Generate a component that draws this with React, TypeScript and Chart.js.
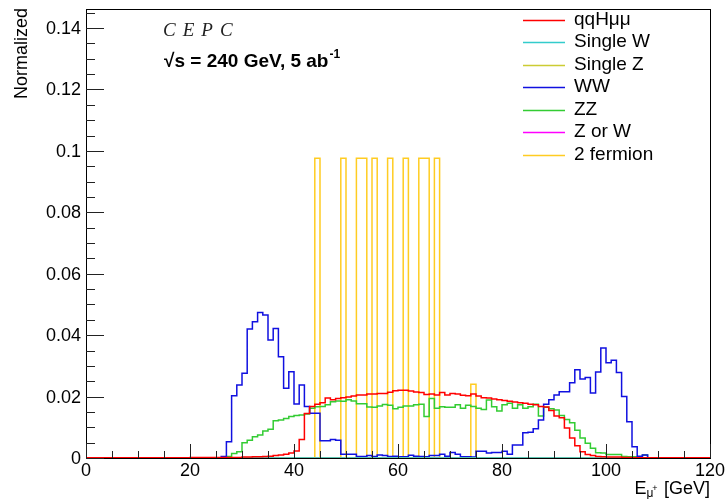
import React, { useEffect, useRef } from 'react';
import { Chart, registerables } from 'chart.js';

Chart.register(...registerables);

// ---------- data ----------
const X_MIN = 0;
const X_MAX = 120;
const Y_MAX = 0.1462;

const xTickValues = [0, 20, 40, 60, 80, 100, 120];
const xTickLabels = ['0', '20', '40', '60', '80', '100', '120'];
const yTickValues = [0, 0.02, 0.04, 0.06, 0.08, 0.1, 0.12, 0.14];
const yTickLabels = ['0', '0.02', '0.04', '0.06', '0.08', '0.1', '0.12', '0.14'];

const seriesNames = ['qqHμμ', 'Single W', 'Single Z', 'WW', 'ZZ', 'Z or W', '2 fermion'];
const seriesColors = ['#ff0000', '#33cccc', '#cccc33', '#1010e0', '#33cc33', '#ff00ff', '#ffcc22'];

// 1 GeV bins, 0..119
const qqHmumu = [
  0.0001, 0.0001, 0.0001, 0.0001, 0.0001, 0.0001, 0.0001, 0.0001, 0.0001, 0.0001,
  0.0001, 0.0001, 0.0001, 0.0001, 0.0001, 0.0001, 0.0001, 0.0001, 0.0001, 0.0001,
  0.0002, 0.0002, 0.0002, 0.0002, 0.0002, 0.0002, 0.0002, 0.0002, 0.0002, 0.0002,
  0.0003, 0.0003, 0.0004, 0.0004, 0.0005, 0.0006, 0.0008, 0.001, 0.0012, 0.0016,
  0.0023, 0.006, 0.0145, 0.0168, 0.0175, 0.018, 0.0195, 0.019, 0.0194, 0.0196,
  0.0199, 0.0202, 0.0205, 0.0205, 0.0208, 0.0208, 0.021, 0.021, 0.0214, 0.0219,
  0.0221, 0.0221, 0.0218, 0.0215, 0.0213, 0.0207, 0.0208, 0.0205, 0.0213, 0.0205,
  0.021, 0.0208, 0.0204, 0.0203, 0.0208, 0.0202, 0.0196, 0.0195, 0.0192, 0.019,
  0.0187, 0.0185, 0.0182, 0.018, 0.0178, 0.0175, 0.0173, 0.0168, 0.0166, 0.0155,
  0.0137, 0.0131, 0.0098, 0.0065, 0.004, 0.002, 0.0011, 0.0008, 0.0005, 0.0004,
  0.0003, 0.0003, 0.0003, 0.0002, 0.0002, 0.0001, 0.0001, 0.0001, 0.0001, 0.0001,
  0.0001, 0.0001, 0.0001, 0.0001, 0.0001, 0.0001, 0.0001, 0.0001, 0.0001, 0.0001,
];

const singleW: number[] = [];
const singleZ: number[] = [];
const zOrW: number[] = [];

const ww = [
  0, 0, 0, 0, 0, 0, 0, 0, 0, 0,
  0, 0, 0, 0, 0, 0, 0, 0, 0, 0,
  0, 0, 0, 0, 0, 0, 0.0005, 0.0053, 0.0203, 0.0238,
  0.0276, 0.042, 0.0444, 0.0474, 0.0466, 0.0384, 0.0422, 0.033, 0.0227, 0.0281,
  0.0176, 0.0238, 0.0168, 0.0146, 0.0146, 0.0056, 0.0056, 0.006, 0.0058, 0.0012,
  0.0012, 0.0012, 0.0005, 0.0005, 0.0008, 0.0005, 0.001, 0.0008, 0.0005, 0.0006,
  0.0004, 0.0004, 0.0009, 0.0006, 0.0005, 0.0004, 0.0008, 0.0008, 0.0012, 0.0006,
  0.0018, 0.0012, 0.0004, 0.0004, 0.0003, 0.0022, 0.0022, 0.0016, 0.0018, 0.0018,
  0.0022, 0.0012, 0.0042, 0.0042, 0.0082, 0.0084, 0.0095, 0.0124, 0.0175, 0.019,
  0.0205, 0.0216, 0.0216, 0.0245, 0.0287, 0.0257, 0.0262, 0.0212, 0.028, 0.0358,
  0.031, 0.0318, 0.0278, 0.02, 0.0118, 0.0037, 0.0006, 0.001, 0, 0,
  0, 0, 0, 0, 0, 0, 0, 0, 0, 0,
];

const zz = [
  0, 0, 0, 0, 0, 0, 0, 0, 0, 0,
  0, 0, 0, 0, 0, 0, 0, 0, 0, 0,
  0, 0, 0, 0, 0, 0, 0, 0.0005, 0.0015, 0.002,
  0.005, 0.0058, 0.0069, 0.0075, 0.0088, 0.0094, 0.0121, 0.0124, 0.0129, 0.0135,
  0.0138, 0.014, 0.0143, 0.0162, 0.0167, 0.0168, 0.0173, 0.0183, 0.0186, 0.0185,
  0.019, 0.0186, 0.0177, 0.0177, 0.0166, 0.0165, 0.0169, 0.0174, 0.0172, 0.016,
  0.0165, 0.0169, 0.0169, 0.0173, 0.0175, 0.0135, 0.0194, 0.0162, 0.0167, 0.0165,
  0.0165, 0.0173, 0.0162, 0.0172, 0.0168, 0.0162, 0.0158, 0.0189, 0.0167, 0.0153,
  0.0173, 0.0178, 0.0162, 0.0173, 0.0162, 0.0167, 0.0175, 0.0137, 0.0165, 0.016,
  0.0156, 0.0138, 0.0125, 0.0115, 0.009, 0.0065, 0.0048, 0.0032, 0.0017, 0.0016,
  0.0011, 0.0011, 0.0011, 0.0005, 0.0004, 0.0004, 0.0003, 0.001, 0, 0,
  0, 0, 0, 0, 0, 0, 0, 0, 0, 0,
];

// 2 fermion: only these bins are filled
const twoFermionBins = [44, 49, 52, 53, 55, 58, 61, 64, 65, 67, 74];
const twoFermionValues = [0.0976, 0.0976, 0.0976, 0.0976, 0.0976, 0.0976, 0.0976, 0.0976, 0.0976, 0.0976, 0.024];

// ---------- helpers ----------
const N_BINS = X_MAX - X_MIN;

function binValue(vals: number[], i: number): number {
  const v = vals[i];
  return typeof v === 'number' ? v : 0;
}

function toSteps(vals: number[]) {
  const pts: { x: number; y: number }[] = [];
  for (let i = 0; i < N_BINS; i++) pts.push({ x: X_MIN + i, y: binValue(vals, i) });
  pts.push({ x: X_MAX, y: binValue(vals, N_BINS - 1) });
  return pts;
}

function sparseToBins(bins: number[], values: number[]): number[] {
  const out: number[] = [];
  bins.forEach((b, k) => {
    out[b - X_MIN] = values[k];
  });
  return out;
}

const FONT = '"Liberation Sans", Arial, Helvetica, sans-serif';

const overlayPlugin = {
  id: 'rootStyle',
  afterDraw(chart: any) {
    const { ctx, chartArea } = chart;
    const xs = chart.scales.x;
    const ys = chart.scales.y;
    const { left, right, top, bottom } = chartArea;
    ctx.save();

    // frame
    ctx.strokeStyle = '#000';
    ctx.lineWidth = 1;
    ctx.strokeRect(Math.round(left) + 0.5, Math.round(top) + 0.5, Math.round(right - left), Math.round(bottom - top));

    // y ticks
    ctx.strokeStyle = '#222';
    ctx.beginPath();
    for (let v = 0; v <= Y_MAX + 1e-9; v += 0.005) {
      const y = Math.round(ys.getPixelForValue(v)) + 0.5;
      const isMajor = Math.abs(v / 0.02 - Math.round(v / 0.02)) < 1e-6;
      const len = isMajor ? 18 : 9;
      ctx.moveTo(left, y);
      ctx.lineTo(left + len, y);
    }
    // x ticks
    for (let v = X_MIN; v <= X_MAX; v += 5) {
      const x = Math.round(xs.getPixelForValue(v)) + 0.5;
      const isMajor = v % 20 === 0;
      const len = isMajor ? 14 : 7;
      ctx.moveTo(x, bottom);
      ctx.lineTo(x, bottom - len);
    }
    ctx.stroke();

    // tick labels
    ctx.fillStyle = '#000';
    ctx.font = `18px ${FONT}`;
    ctx.textAlign = 'right';
    ctx.textBaseline = 'middle';
    yTickValues.forEach((v, i) => {
      ctx.fillText(yTickLabels[i], left - 5, ys.getPixelForValue(v) + 1);
    });
    ctx.textAlign = 'center';
    ctx.textBaseline = 'top';
    xTickValues.forEach((v, i) => {
      ctx.fillText(xTickLabels[i], xs.getPixelForValue(v), bottom + 4);
    });

    // y title
    ctx.save();
    ctx.translate(27, top - 1);
    ctx.rotate(-Math.PI / 2);
    ctx.textAlign = 'right';
    ctx.textBaseline = 'alphabetic';
    ctx.font = `18px ${FONT}`;
    ctx.fillText('Normalized', 0, 0);
    ctx.restore();

    // x title: E_{mu+} [GeV], right aligned at frame right
    ctx.textAlign = 'left';
    ctx.textBaseline = 'alphabetic';
    const mainFont = `18px ${FONT}`;
    const subFont = `12px ${FONT}`;
    ctx.font = mainFont;
    const wE = ctx.measureText('E').width;
    const wRest = ctx.measureText(' [GeV]').width;
    ctx.font = subFont;
    const wMu = ctx.measureText('μ').width;
    const wPlus = ctx.measureText('+').width * 0.8;
    const total = wE + wMu + wPlus + wRest;
    let cx = right - total;
    const by = 494;
    ctx.font = mainFont;
    ctx.fillText('E', cx, by);
    cx += wE;
    ctx.font = subFont;
    ctx.fillText('μ', cx, by + 3);
    ctx.font = `9px ${FONT}`;
    ctx.fillText('+', cx + wMu - 1, by - 3);
    cx += wMu + wPlus;
    ctx.font = mainFont;
    ctx.fillText(' [GeV]', cx, by);

    // CEPC label
    ctx.fillStyle = '#222';
    ctx.font = `italic 19px "Liberation Serif", "DejaVu Serif", serif`;
    (ctx as any).letterSpacing = '7px';
    ctx.textBaseline = 'alphabetic';
    ctx.fillText('CEPC', 163, 36);
    (ctx as any).letterSpacing = '0px';
    ctx.fillStyle = '#000';

    // sqrt(s) label
    ctx.font = `bold 19px ${FONT}`;
    const mainTxt = '√s = 240 GeV, 5 ab';
    ctx.fillText(mainTxt, 164, 67);
    const wMain = ctx.measureText(mainTxt).width;
    ctx.font = `bold 12px ${FONT}`;
    ctx.fillText('-1', 164 + wMain + 1, 58);

    // legend
    ctx.font = `19px ${FONT}`;
    ctx.textBaseline = 'middle';
    const legendY0 = 19.5;
    const legendDy = 22.5;
    seriesNames.forEach((name, i) => {
      const y = legendY0 + i * legendDy;
      ctx.strokeStyle = seriesColors[i];
      ctx.lineWidth = 1.5;
      ctx.beginPath();
      ctx.moveTo(523, Math.round(y) + 0.5);
      ctx.lineTo(565, Math.round(y) + 0.5);
      ctx.stroke();
      ctx.fillStyle = '#000';
      ctx.fillText(name, 574, y);
    });

    ctx.restore();
  },
};

export default function App() {
  const canvasRef = useRef<HTMLCanvasElement | null>(null);

  useEffect(() => {
    const canvas = canvasRef.current;
    if (!canvas) return;
    const allSeries = [
      qqHmumu,
      singleW,
      singleZ,
      ww,
      zz,
      zOrW,
      sparseToBins(twoFermionBins, twoFermionValues),
    ];
    const datasets = allSeries.map((vals, i) => ({
      label: seriesNames[i],
      data: toSteps(vals),
      borderColor: seriesColors[i],
      backgroundColor: seriesColors[i],
      borderWidth: 1.5,
      stepped: true as const,
      fill: false,
      pointRadius: 0,
      tension: 0,
    }));

    const chart = new Chart(canvas, {
      type: 'line',
      data: { datasets },
      options: {
        animation: false,
        responsive: false,
        devicePixelRatio: 1,
        layout: { padding: { left: 86, right: 17, top: 9, bottom: 41 } },
        scales: {
          x: { type: 'linear', min: X_MIN, max: X_MAX, display: false },
          y: { type: 'linear', min: 0, max: Y_MAX, display: false },
        },
        plugins: {
          legend: { display: false },
          tooltip: { enabled: false },
        },
      },
      plugins: [overlayPlugin],
    });
    return () => chart.destroy();
  }, []);

  return (
    <div style={{ position: 'absolute', left: 0, top: 0, width: 727, height: 499, background: '#fff' }}>
      <canvas ref={canvasRef} width={727} height={499} style={{ display: 'block' }} />
    </div>
  );
}
